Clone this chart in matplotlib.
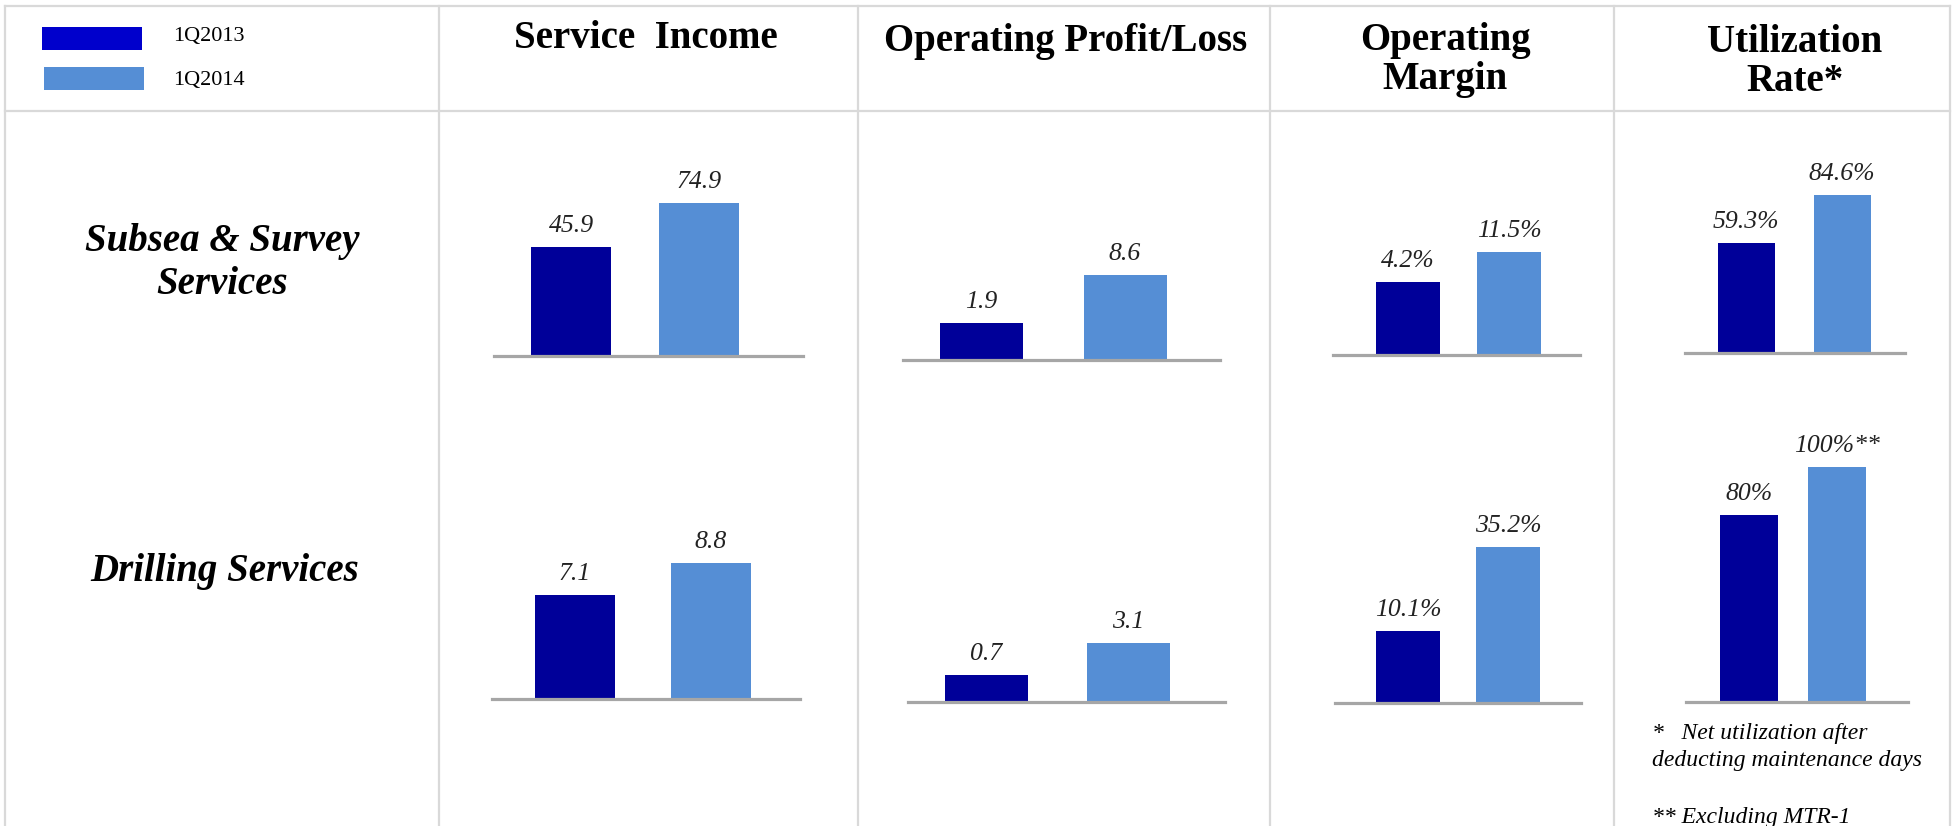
import numpy as np
import matplotlib
matplotlib.use("Agg")
import matplotlib.pyplot as plt
from matplotlib.lines import Line2D
from matplotlib.patches import Rectangle

# ---- data ----
periods = ["1Q2013", "1Q2014"]
segments = ["Subsea & Survey\nServices", "Drilling Services"]
metrics = ["Service  Income", "Operating Profit/Loss", "Operating\nMargin", "Utilization\nRate*"]

# rows: segments, cols: metrics
values_2013 = [[45.9, 1.9, 4.2, 59.3],
               [7.1, 0.7, 10.1, 80.0]]
values_2014 = [[74.9, 8.6, 11.5, 84.6],
               [8.8, 3.1, 35.2, 100.0]]
labels_2013 = [["45.9", "1.9", "4.2%", "59.3%"],
               ["7.1", "0.7", "10.1%", "80%"]]
labels_2014 = [["74.9", "8.6", "11.5%", "84.6%"],
               ["8.8", "3.1", "35.2%", "100%**"]]

footnotes = ["*   Net utilization after\ndeducting maintenance days", "** Excluding MTR-1"]

# ---- style / layout (pixels, measured from top-left) ----
W, H = 1960, 826
DARK = "#000099"
LIGHT = "#558ED5"
LEGEND_DARK = "#0000CC"
GRID = "#D9D9D9"
BASE = "#A6A6A6"
SERIF = ["Liberation Serif", "DejaVu Serif"]

# per panel: baseline x0, x1, y, bar centres c1, c2, bar width, axis floor, px per unit
panels = {
    (0, 0): (494, 803, 356, 571, 699, 80, -25.9, 1.517),
    (0, 1): (903, 1220, 360, 981, 1125, 83, -3.27, 7.16),
    (0, 2): (1333, 1580, 355, 1408, 1509, 64, -13.6, 4.11),
    (0, 3): (1685, 1905, 353, 1746, 1842, 57, 1.3, 1.897),
    (1, 0): (492, 800, 699, 575, 711, 80, 1.58, 18.8),
    (1, 1): (908, 1225, 702, 986, 1128, 83, -1.33, 13.3),
    (1, 2): (1335, 1581, 703, 1408, 1508, 64, -11.4, 3.347),
    (1, 3): (1686, 1908, 702, 1749, 1837, 58, 2.1, 2.4),
}

plt.rcParams["font.family"] = SERIF
fig = plt.figure(figsize=(W / 100, H / 100), dpi=100)


def fx(x):
    return x / W


def fy(y):
    return 1 - y / H


def hline(y, x0, x1):
    fig.add_artist(Line2D([fx(x0), fx(x1)], [fy(y), fy(y)], transform=fig.transFigure,
                          color=GRID, lw=1.6))


def vline(x, y0, y1):
    fig.add_artist(Line2D([fx(x), fx(x)], [fy(y0), fy(y1)], transform=fig.transFigure,
                          color=GRID, lw=1.6))


# table grid
hline(6, 5, 1950)
hline(111, 5, 1950)
for x in [5, 439, 858, 1270, 1614, 1950]:
    vline(x, 6, H)

# legend
fig.add_artist(Rectangle((fx(42), fy(50)), 100 / W, 23 / H, transform=fig.transFigure,
                         color=LEGEND_DARK, lw=0))
fig.add_artist(Rectangle((fx(44), fy(90)), 100 / W, 23 / H, transform=fig.transFigure,
                         color=LIGHT, lw=0))
fig.text(fx(173), fy(36), periods[0], fontsize=16, va="center", ha="left")
fig.text(fx(173), fy(80), periods[1], fontsize=16, va="center", ha="left")

# column headers
header_pos = [(646, 38), (1066, 42), (1445, 60), (1795, 62)]
for name, (x, y) in zip(metrics, header_pos):
    fig.text(fx(x), fy(y), name, fontsize=28, fontweight="bold", ha="center", va="center",
             linespacing=1.05)

# row labels
row_pos = [(222, 263), (225, 572)]
for name, (x, y) in zip(segments, row_pos):
    fig.text(fx(x), fy(y), name, fontsize=28, fontweight="bold", style="italic",
             ha="center", va="center", linespacing=1.22)

# bar panels
xs = np.arange(len(periods))
for r in range(len(segments)):
    for c in range(len(metrics)):
        x0, x1, yb, c1, c2, bw, floor, scale = panels[(r, c)]
        axh = 330
        ax = fig.add_axes([fx(x0), fy(yb), (x1 - x0) / W, axh / H])
        d = c2 - c1
        ax.set_xlim((x0 - c1) / d, (x1 - c1) / d)
        ax.set_ylim(floor, floor + axh / scale)
        vals = np.array([values_2013[r][c], values_2014[r][c]])
        ax.bar(xs, vals - floor, bottom=floor, width=bw / d, color=[DARK, LIGHT])
        for i, lab in enumerate([labels_2013[r][c], labels_2014[r][c]]):
            ax.annotate(lab, (xs[i], vals[i]), xytext=(0, 11), textcoords="offset points",
                        ha="center", va="baseline", fontsize=18.5, style="italic",
                        color="#222222")
        ax.patch.set_visible(False)
        for s in ["top", "left", "right"]:
            ax.spines[s].set_visible(False)
        ax.spines["bottom"].set_color(BASE)
        ax.spines["bottom"].set_linewidth(2.3)
        ax.set_xticks([])
        ax.set_yticks([])

# footnotes
fig.text(fx(1652), fy(747), footnotes[0], fontsize=17, style="italic", ha="left", va="center",
         linespacing=1.35)
fig.text(fx(1652), fy(818), footnotes[1], fontsize=17, style="italic", ha="left", va="center")

fig.savefig("out.png", dpi=100, facecolor="white")
